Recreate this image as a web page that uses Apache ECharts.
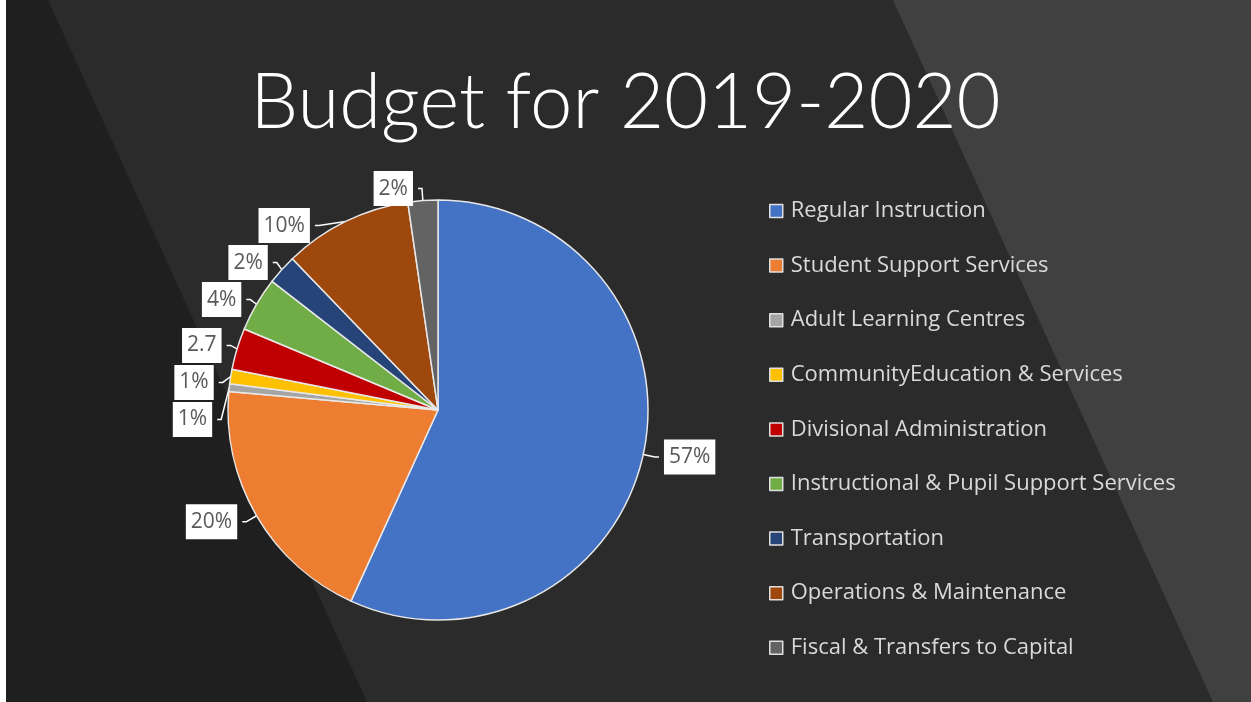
<!DOCTYPE html>
<html>
<head>
<meta charset="utf-8">
<script src="https://cdn.jsdelivr.net/npm/echarts@6/dist/echarts.min.js"></script>
<style>
  html, body { margin: 0; padding: 0; background: #fff; }
  #chart { width: 1251px; height: 702px; }
</style>
</head>
<body>
<div id="chart"></div>
<script>
// budget categories (legend order = slice order, clockwise from 12 o'clock)
const categories = [
  "Regular Instruction",
  "Student Support Services",
  "Adult Learning Centres",
  "CommunityEducation & Services",
  "Divisional Administration",
  "Instructional & Pupil Support Services",
  "Transportation",
  "Operations & Maintenance",
  "Fiscal & Transfers to Capital"
];
// share of budget
const values = [56.8, 19.6, 0.6, 1.1, 3.2, 4.2, 2.3, 9.9, 2.3];
// data label text as printed on the chart
const labelTexts = ["57%", "20%", "1%", "1%", "2.7", "4%", "2%", "10%", "2%"];
const sliceColors = ["#4472C4", "#ED7D31", "#A5A5A5", "#FFC000", "#C00000",
  "#70AD47", "#264478", "#9E480E", "#636363"];

let myChart = echarts.init(document.getElementById("chart"));

myChart.setOption({
  backgroundColor: "#2b2b2b",
  animation: false,
  color: sliceColors,
  // slide background stripes
  graphic: [
    { type: "polygon", z: 0, silent: true,
      shape: { points: [[0, 0], [48, 0], [367, 702], [0, 702]] },
      style: { fill: "#1f1f1f" } },
    { type: "polygon", z: 0, silent: true,
      shape: { points: [[893, 0], [1251, 0], [1251, 702], [1213, 702]] },
      style: { fill: "#404040" } },
    { type: "rect", z: 0, silent: true,
      shape: { x: 0, y: 0, width: 6, height: 702 },
      style: { fill: "#ffffff" } }
  ],
  title: {
    text: "Budget for 2019-2020",
    left: "center",
    top: 65,
    padding: [0, 0, 0, 9],
    textStyle: {
      color: "#ffffff",
      fontFamily: "Lato",
      fontWeight: 300,
      fontSize: 76
    }
  },
  legend: {
    orient: "vertical",
    left: 769,
    top: 199,
    padding: 0,
    itemGap: 30.6,
    itemWidth: 13,
    itemHeight: 13,
    icon: "rect",
    itemStyle: { borderColor: "#e0e0e0", borderWidth: 1.5 },
    textStyle: {
      color: "#d9d9d9",
      fontFamily: "Open Sans",
      fontSize: 22,
      lineHeight: 24,
      padding: [0, 0, 0, 3]
    },
    data: categories
  },
  series: [
    {
      type: "pie",
      center: [438, 410],
      radius: 210,
      startAngle: 90,
      clockwise: true,
      itemStyle: { borderColor: "#e8e8e8", borderWidth: 1.5 },
      label: {
        show: true,
        position: "outside",
        formatter: (p) => labelTexts[p.dataIndex],
        color: "#595959",
        fontFamily: "Open Sans",
        fontSize: 21,
        lineHeight: 26,
        backgroundColor: "#ffffff",
        padding: [5, 5, 4, 5]
      },
      labelLine: {
        show: true,
        length: 12,
        length2: 4,
        lineStyle: { color: "#ffffff", width: 1.5 }
      },
      labelLayout: { moveOverlap: "shiftY", hideOverlap: false },
      emphasis: { disabled: true },
      data: categories.map((name, i) => ({ name: name, value: values[i] }))
    }
  ]
});
</script>
</body>
</html>
